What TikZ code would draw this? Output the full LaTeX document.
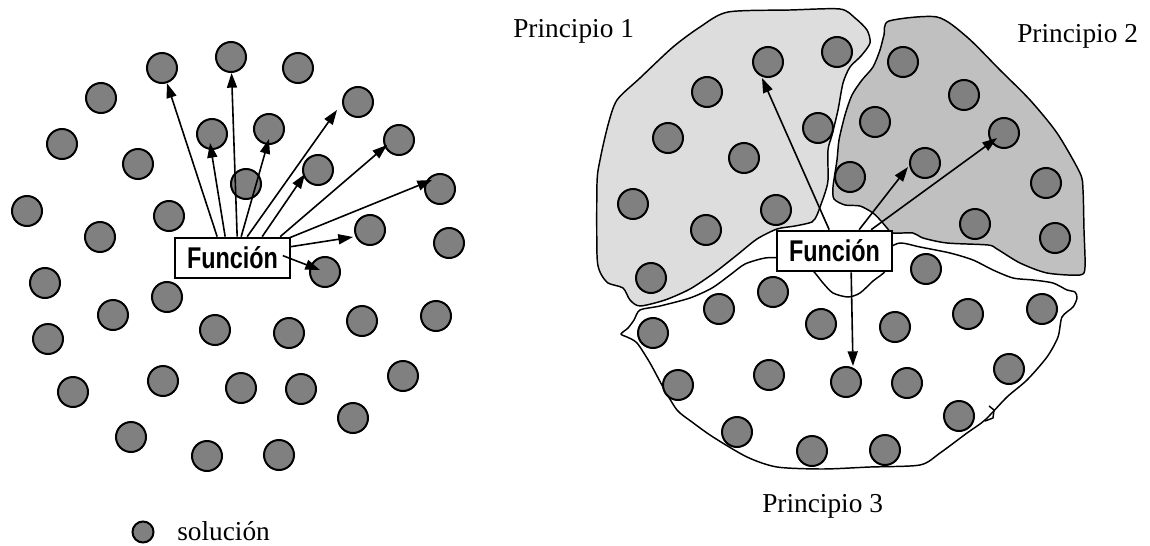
\documentclass[tikz,border=0pt]{standalone}
\usepackage{fontspec}
\setmainfont{Liberation Serif}
\newfontfamily\boxfont{Liberation Sans}
\usepackage{graphicx}
\usetikzlibrary{arrows.meta,calc}
\definecolor{solgray}{RGB}{128,128,128}
\definecolor{regA}{RGB}{221,221,221}
\definecolor{regB}{RGB}{192,192,192}
\begin{document}
\begin{tikzpicture}[x=0.75pt,y=-0.75pt,
  sol/.style={circle,draw=black,line width=1.5pt,fill=solgray,minimum size=22.5pt,inner sep=0pt},
  legsol/.style={circle,draw=black,line width=1.5pt,fill=solgray,minimum size=15.75pt,inner sep=0pt},
  funbox/.style={draw=black,line width=1.5pt,fill=white,minimum width=86pt,minimum height=30.5pt,inner sep=0pt,
    font={\boxfont\bfseries\fontsize{22.5pt}{22.5pt}\selectfont}},
  arr/.style={-{Triangle[length=11pt,width=7.5pt]},line width=1.2pt},
  region/.style={draw=black,line width=1.1pt,line join=round},
  lbl/.style={anchor=base west,inner sep=0pt,font={\fontsize{20.5pt}{20.5pt}\selectfont}}]
\useasboundingbox (0,0) rectangle (1150,546);

% ---------------- left panel ----------------
\foreach \n/\x/\y in {l1/162/68,l2/231/57,l3/298/68,l4/101/98,l5/358/102,l6/62/144,
  l7/212/134,l8/269/129,l9/399/140,l10/138/164,l11/246/184,l12/318/170,l13/440/189,
  l14/27/211,l15/169/216,l16/370/230,l17/100/237,l18/449/243,l19/45/283,l20/167/297,
  l21/325/272,l22/113/315,l23/215/330,l24/289/333,l25/362/321,l26/436/316,l27/48/339,
  l28/73/392,l29/163/381,l30/241/388,l31/301/389,l32/403/376,l33/131/437,l34/207/456,
  l35/279/455,l36/353/418}
  \node[sol] (\n) at (\x,\y) {};

\node[funbox] (fl) at (232.5,258) {\scalebox{0.78}[1]{Función}};

\draw[arr] ($(fl.north west)+(43,0)$) -- (l1);
\draw[arr] ($(fl.north west)+(63,0)$) -- (l2);
\draw[arr] ($(fl.north west)+(51,0)$) -- ($(l7)+(-2,9)$);
\draw[arr] ($(fl.north west)+(67,0)$) -- ($(l8)+(0,10)$);
\draw[arr] ($(fl.north west)+(73,0)$) -- ($(l5)+(-21,8)$);
\draw[arr] ($(fl.north west)+(88,0)$) -- ($(l12)+(-13,4)$);
\draw[arr] ($(fl.north west)+(106,0)$) -- ($(l9)+(-12,5)$);
\draw[arr] ($(fl.north east)+(-1,1)$) -- ($(l13)+(-8,-9)$);
\draw[arr] ($(fl.north east)+(0,10)$) -- ($(l16)+(-17,7)$);
\draw[arr] ($(fl.north east)+(-8,19)$) -- ($(l21)+(-5,-2)$);

% legend
\node[legsol] (leg) at (143,532) {};
\node[lbl] (legtxt) at (177,540) {solución};

% ---------------- right panel ----------------
% region 1
\filldraw[region,fill=regA] plot[smooth cycle,tension=0.45] coordinates {
 (728,12) (790,10) (840,9) (855,18) (867,30) (870,43) (861,56) (850,67) (843,83)
 (838,110) (832,135) (828,150) (828,180) (825,193) (820,207) (817,215) (812,222)
 (795,226) (777,229) (757,239) (737,255) (714,273) (690,289) (665,300) (640,306)
 (630,300) (623,288) (608,283) (600,272) (597,255) (597,183) (600,160) (608,125)
 (617,100) (640,78) (673,47) (700,27)};
% region 2
\filldraw[region,fill=regB] plot[smooth cycle,tension=0.45] coordinates {
 (889,21) (937,17) (967,37) (1000,70) (1030,100) (1057,133) (1080,173) (1083,190)
 (1084,230) (1085,267) (1080,275) (1047,273) (1020,263) (997,249) (988,245) (947,243)
 (923,238) (913,233) (893,233) (887,228) (882,222) (873,213) (860,206) (845,205)
 (834,199) (833,187) (837,160) (839,140) (845,115) (852,95) (862,80) (873,67)
 (880,50) (884,35)};
% region 3
\filldraw[region,fill=white] plot[smooth cycle,tension=0.45] coordinates {
 (780,258) (765,258) (745,264) (730,275) (712,288) (690,298) (660,306) (640,310)
 (634,320) (628,328) (621,334) (627,337) (637,343) (650,363) (663,387) (677,410)
 (692,422) (713,437) (747,457) (777,467) (823,469) (870,467) (920,465) (940,453)
 (967,433) (985,420) (1007,397) (1027,380) (1047,357) (1058,337) (1062,317)
 (1073,307) (1077,298) (1075,292) (1067,290) (1053,283) (1033,280) (1013,278)
 (993,270) (973,260) (950,253) (920,247) (900,243) (888,250) (886,270) (873,281)
 (860,293) (848,297) (833,293) (823,283) (812,270) (795,262)};
\draw[region] (985,421) -- (993,418) -- (994,410) -- (989,406);

\foreach \n/\x/\y in {r1/768/62,r2/837/52,r3/707/92,r4/668/138,r5/818/128,r6/744/158,
  r7/633/204,r8/776/210,r9/706/230,r10/651/278,
  s1/903/62,s2/964/95,s3/875/122,s4/1004/133,s5/925/163,s6/850/177,s7/1046/183,
  s8/975/224,s9/1055/238,
  t1/773/292,t2/719/309,t3/821/324,t4/653/333,t5/769/375,t6/846/382,t7/678/385,
  t8/737/432,t9/812/451,t10/926/269,t11/968/314,t12/1042/309,t13/895/327,t14/907/383,
  t15/1009/369,t16/959/416,t17/885/450}
  \node[sol] (\n) at (\x,\y) {};

\node[funbox] (fr) at (834.5,251) {\scalebox{0.78}[1]{Función}};

\draw[arr] ($(fr.north west)+(53,0)$) -- ($(r1)+(-6,16)$);
\draw[arr] ($(fr.north west)+(83,0)$) -- ($(s5)+(-17,4)$);
\draw[arr] ($(fr.north west)+(95,0)$) -- ($(s4)+(-7,5)$);
\draw[arr] ($(fr.south west)+(75,0)$) -- ($(t6)+(7,-16)$);

\node[lbl] (p1) at (513,37) {Principio 1};
\node[lbl] (p2) at (1017,42) {Principio 2};
\node[lbl] (p3) at (762,512) {Principio 3};
\end{tikzpicture}
\end{document}
